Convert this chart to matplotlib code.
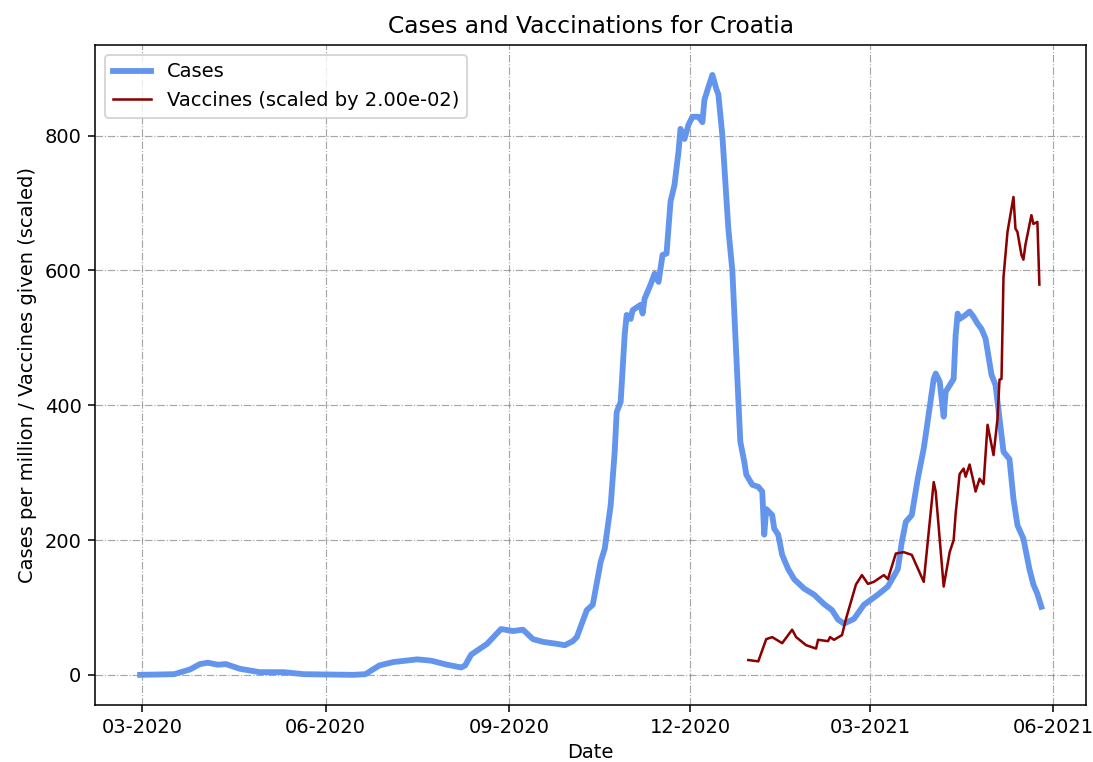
import matplotlib
matplotlib.use("Agg")
import matplotlib.pyplot as plt
import matplotlib.dates as mdates
import pandas as pd

country = "Croatia"
vaccine_scale = 2.00e-02

# cases per million (smoothed)
case_dates = [
    "2020-02-29", "2020-03-17", "2020-03-25", "2020-03-30", "2020-04-03", "2020-04-08",
    "2020-04-12", "2020-04-19", "2020-04-29", "2020-05-11", "2020-05-21", "2020-06-15",
    "2020-06-21", "2020-06-28", "2020-07-05", "2020-07-17", "2020-07-24", "2020-08-01",
    "2020-08-08", "2020-08-10", "2020-08-13", "2020-08-21", "2020-08-28", "2020-09-03",
    "2020-09-08", "2020-09-13", "2020-09-18", "2020-09-25", "2020-09-29", "2020-10-03",
    "2020-10-05", "2020-10-10", "2020-10-13", "2020-10-17", "2020-10-19", "2020-10-22",
    "2020-10-24", "2020-10-25", "2020-10-27", "2020-10-29", "2020-10-30", "2020-11-01",
    "2020-11-02", "2020-11-06", "2020-11-07", "2020-11-08", "2020-11-11", "2020-11-13",
    "2020-11-15", "2020-11-17", "2020-11-19", "2020-11-21", "2020-11-23", "2020-11-25",
    "2020-11-26", "2020-11-28", "2020-11-30", "2020-12-02", "2020-12-05", "2020-12-07",
    "2020-12-08", "2020-12-10", "2020-12-12", "2020-12-14", "2020-12-15", "2020-12-17",
    "2020-12-20", "2020-12-22", "2020-12-26", "2020-12-28", "2020-12-29", "2021-01-01",
    "2021-01-04", "2021-01-06", "2021-01-07", "2021-01-08", "2021-01-11", "2021-01-12",
    "2021-01-14", "2021-01-16", "2021-01-19", "2021-01-22", "2021-01-27", "2021-02-01",
    "2021-02-06", "2021-02-10", "2021-02-13", "2021-02-16", "2021-02-21", "2021-02-26",
    "2021-03-05", "2021-03-10", "2021-03-15", "2021-03-17", "2021-03-19", "2021-03-22",
    "2021-03-25", "2021-03-28", "2021-03-29", "2021-04-02", "2021-04-03", "2021-04-05",
    "2021-04-07", "2021-04-08", "2021-04-12", "2021-04-13", "2021-04-14", "2021-04-15",
    "2021-04-18", "2021-04-20", "2021-04-22", "2021-04-24", "2021-04-26", "2021-04-28",
    "2021-05-01", "2021-05-03", "2021-05-07", "2021-05-10", "2021-05-12", "2021-05-14",
    "2021-05-17", "2021-05-20", "2021-05-22", "2021-05-24", "2021-05-26",
]
case_values = [
    0, 1, 8, 16, 18, 15,
    16, 9, 4, 4, 1, 0,
    1, 14, 19, 23, 21, 15,
    11, 14, 30, 46, 68, 65,
    67, 53, 49, 46, 44, 50,
    56, 96, 104, 168, 187, 252,
    331, 390, 405, 504, 534, 528,
    541, 549, 536, 558, 579, 595,
    583, 623, 625, 702, 727, 776,
    810, 795, 816, 828, 828, 820,
    853, 872, 890, 869, 861, 800,
    662, 600, 346, 316, 297, 282,
    279, 272, 208, 246, 237, 217,
    208, 178, 157, 142, 128, 119,
    105, 96, 82, 76, 83, 104,
    119, 131, 157, 197, 227, 237,
    291, 336, 356, 439, 447, 435,
    383, 420, 439, 504, 536, 528,
    534, 539, 531, 521, 513, 499,
    445, 430, 331, 320, 261, 222,
    202, 157, 134, 120, 101,
]

# vaccines given, already multiplied by vaccine_scale
vacc_dates = [
    "2020-12-30", "2021-01-04", "2021-01-08", "2021-01-11", "2021-01-16", "2021-01-21",
    "2021-01-23", "2021-01-28", "2021-02-02", "2021-02-03", "2021-02-08", "2021-02-09",
    "2021-02-11", "2021-02-15", "2021-02-17", "2021-02-22", "2021-02-25", "2021-02-28",
    "2021-03-03", "2021-03-08", "2021-03-10", "2021-03-14", "2021-03-18", "2021-03-22",
    "2021-03-28", "2021-04-02", "2021-04-03", "2021-04-07", "2021-04-10", "2021-04-12",
    "2021-04-13", "2021-04-15", "2021-04-17", "2021-04-18", "2021-04-20", "2021-04-22",
    "2021-04-23", "2021-04-25", "2021-04-27", "2021-04-29", "2021-05-02", "2021-05-04",
    "2021-05-05", "2021-05-06", "2021-05-07", "2021-05-09", "2021-05-12", "2021-05-13",
    "2021-05-14", "2021-05-16", "2021-05-17", "2021-05-18", "2021-05-21", "2021-05-22",
    "2021-05-24", "2021-05-25",
]
vacc_values = [
    22, 20, 53, 56, 47, 67,
    56, 44, 39, 52, 50, 56,
    52, 59, 83, 134, 148, 135,
    138, 148, 142, 180, 182, 178,
    138, 286, 272, 131, 182, 200,
    239, 298, 306, 294, 312, 286,
    272, 291, 283, 371, 326, 380,
    438, 439, 590, 657, 709, 662,
    657, 623, 616, 638, 682, 669,
    672, 579,
]

cases = pd.Series(case_values, index=pd.to_datetime(case_dates))
vaccines = pd.Series(vacc_values, index=pd.to_datetime(vacc_dates))

dpi = 140
fig = plt.figure(figsize=(1093 / dpi, 762 / dpi), dpi=dpi)
ax = fig.add_axes([0.087, 0.075, 0.907, 0.866])

ax.plot(cases.index, cases.values, color="cornflowerblue", linewidth=3, label="Cases")
ax.plot(vaccines.index, vaccines.values, color="darkred", linewidth=1.3,
        label=f"Vaccines (scaled by {vaccine_scale:.2e})")

ax.set_title(f"Cases and Vaccinations for {country}", fontsize=12)
ax.set_xlabel("Date", labelpad=3)
ax.set_ylabel("Cases per million / Vaccines given (scaled)")

ax.xaxis.set_major_locator(mdates.MonthLocator(bymonth=[3, 6, 9, 12]))
ax.xaxis.set_major_formatter(mdates.DateFormatter("%m-%Y"))

ax.grid(True, linestyle="-.", color="gray", alpha=0.7, linewidth=0.6)
ax.legend(loc="upper left")

fig.savefig("out.png", dpi=dpi)
